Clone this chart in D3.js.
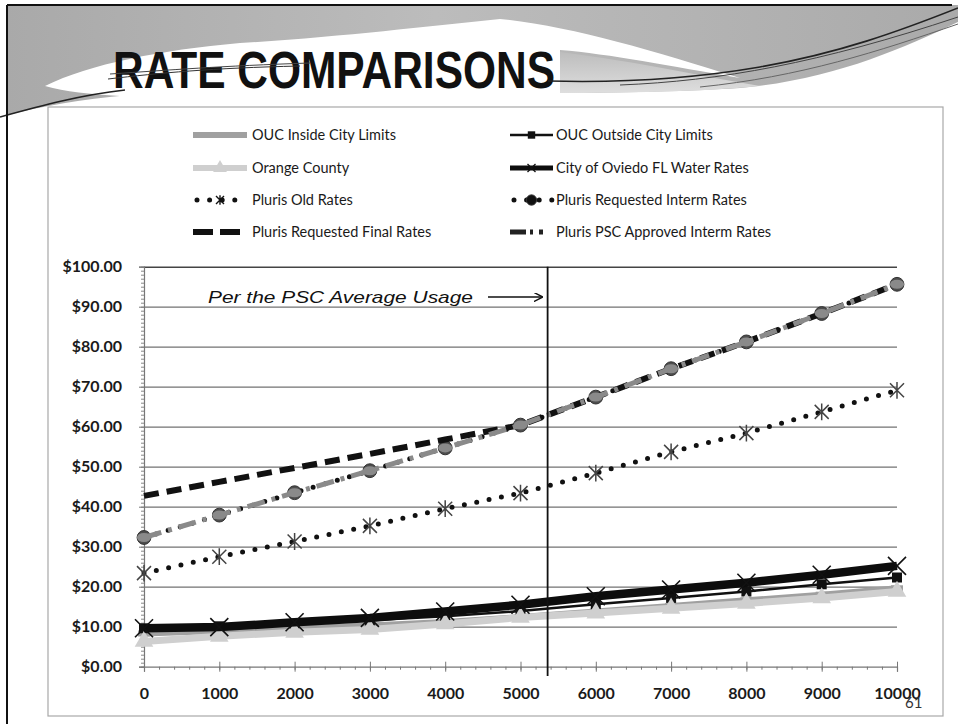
<!DOCTYPE html>
<html><head><meta charset="utf-8">
<script src="https://cdn.jsdelivr.net/npm/d3@7"></script>
<style>body{margin:0;background:#fff;} svg{display:block}</style>
</head><body>
<svg id="c" width="958" height="724"></svg>
<script>
// ---------- data ----------
const usage = [0,1000,2000,3000,4000,5000,6000,7000,8000,9000,10000];
const xTickLabels = ["0","1000","2000","3000","4000","5000","6000","7000","8000","9000","10000"];
const yTickValues = [0,10,20,30,40,50,60,70,80,90,100];
const seriesNames = [
  "OUC Inside City Limits","OUC Outside City Limits",
  "Orange County","City of Oviedo FL Water Rates",
  "Pluris Old Rates","Pluris Requested Interm Rates",
  "Pluris Requested Final Rates","Pluris PSC Approved Interm Rates"
];
const oucInside       = [8.3, 8.9, 9.6, 10.3, 11.2, 12.4, 13.8, 15.2, 16.6, 18.0, 19.6];
const oucOutside      = [9.6, 10.1, 10.8, 11.6, 12.6, 13.9, 15.6, 17.2, 18.8, 20.6, 22.3];
const orangeCounty    = [6.3, 7.6, 8.6, 9.3, 10.7, 12.3, 13.4, 14.6, 15.8, 17.2, 18.8];
const oviedo          = [9.6, 9.9, 11.1, 12.2, 13.8, 15.5, 17.6, 19.3, 21.0, 23.0, 25.2];
const plurisOld       = [23.4, 27.5, 31.3, 35.2, 39.5, 43.4, 48.4, 53.7, 58.4, 63.7, 69.1];
const plurisReqInterim= [32.3, 37.9, 43.5, 49.0, 54.7, 60.4, 67.4, 74.5, 81.2, 88.3, 95.6];
const plurisReqFinal  = [42.7, 46.2, 49.7, 53.2, 56.8, 60.4, 67.4, 74.5, 81.2, 88.3, 95.6];
const pscApproved     = [32.3, 37.9, 43.5, 49.0, 54.7, 60.4, 67.4, 74.5, 81.2, 88.3, 95.6];
const pscAverageUsage = 5360;
const titleText = "RATE COMPARISONS";
const annotationText = "Per the PSC Average Usage";
const pageNumber = "61";

// ---------- setup ----------
const svg = d3.select("#c");
const defs = svg.append("defs");
const g1 = defs.append("linearGradient").attr("id","hg").attr("x1",0).attr("y1",0).attr("x2",1).attr("y2",0);
g1.append("stop").attr("offset",0).attr("stop-color","#a9a9a9");
g1.append("stop").attr("offset",0.45).attr("stop-color","#bcbcbc");
g1.append("stop").attr("offset",1).attr("stop-color","#aaaaaa");
const g2 = defs.append("linearGradient").attr("id","hg2").attr("x1",0).attr("y1",0).attr("x2",0).attr("y2",1);
g2.append("stop").attr("offset",0).attr("stop-color","#bdbdbd");
g2.append("stop").attr("offset",1).attr("stop-color","#dedede");

// ---------- header ----------
const hdr = svg.append("g");
hdr.append("path")
  .attr("d","M7,5 H958 V22 C 900,50 830,80 740,88 C 680,92 600,93 540,93 L 130,95 C 80,99 40,107 7,115 Z")
  .attr("fill","url(#hg)");
hdr.append("path")
  .attr("d","M560,52 C 640,62 700,76 760,86 C 700,92 620,93 560,93 Z")
  .attr("fill","url(#hg2)");
hdr.append("path")
  .attr("d","M45,86 C 90,64 160,50 240,43 C 340,37 420,27 500,19 C 570,26 650,50 740,78 C 670,66 610,54 560,50 L 560,95 L 120,96 C 90,94 65,92 45,86 Z")
  .attr("fill","#fff");
hdr.append("text").text(titleText)
  .attr("x",113).attr("y",88)
  .attr("font-family","'Liberation Sans', Arial, sans-serif")
  .attr("font-weight","bold").attr("font-size",52)
  .attr("textLength",442).attr("lengthAdjust","spacingAndGlyphs")
  .attr("fill","#111");
const swoosh = [
  ["M0,117 C 40,106 80,95 125,90", "#222", 1.6],
  ["M108,79 C 160,73 210,68 300,66", "#333", 1],
  ["M110,74 C 170,70 220,66 310,63", "#444", 1],
  ["M548,81 C 620,83 690,79 760,67 C 840,53 900,31 958,8", "#222", 1.6],
  ["M620,85 C 720,81 820,63 958,17", "#444", 1],
  ["M700,87 C 800,77 880,51 958,24", "#666", 1]
];
hdr.selectAll("path.sw").data(swoosh).join("path").attr("class","sw")
  .attr("d",d=>d[0]).attr("stroke",d=>d[1]).attr("stroke-width",d=>d[2]).attr("fill","none");
// slide border
svg.append("line").attr("x1",7).attr("x2",952).attr("y1",5).attr("y2",5).attr("stroke","#111").attr("stroke-width",2);
svg.append("line").attr("x1",7).attr("x2",7).attr("y1",5).attr("y2",724).attr("stroke","#111").attr("stroke-width",2);

// chart box
svg.append("rect").attr("x",48).attr("y",107).attr("width",895).attr("height",609)
  .attr("fill","#fff").attr("stroke","#a8a8a8").attr("stroke-width",1.2);

// ---------- scales ----------
const x = d3.scaleLinear().domain([0,10000]).range([144,897]);
const y = d3.scaleLinear().domain([0,100]).range([666.7,266.7]);
const FONT = "Lato, 'Open Sans', sans-serif";

// gridlines
svg.append("g").attr("transform","translate(144,0)")
  .call(d3.axisLeft(y).tickValues(yTickValues.slice(1)).tickSize(-(897-144)).tickFormat(""))
  .call(g=>g.select(".domain").remove())
  .call(g=>g.selectAll("line").attr("stroke",d=>d===100?"#444":"#727272").attr("stroke-width",d=>d===100?1.6:1.2));

// y minor ticks
svg.append("g").attr("transform","translate(144,0)")
  .call(d3.axisLeft(y).ticks(100).tickSize(3).tickFormat(""))
  .call(g=>g.select(".domain").remove())
  .call(g=>g.selectAll("line").attr("stroke","#888"));
// y major axis
svg.append("g").attr("transform","translate(144,0)")
  .call(d3.axisLeft(y).tickValues(yTickValues).tickSize(5).tickPadding(17).tickFormat(d=>"$"+d.toFixed(2)))
  .call(g=>g.select(".domain").attr("stroke","#777").attr("stroke-width",1.2))
  .call(g=>g.selectAll("line").attr("stroke","#777"))
  .call(g=>g.selectAll("text").attr("font-family",FONT).attr("font-weight","bold").attr("font-size",16).attr("fill","#1a1a1a"));

// x minor ticks
svg.append("g").attr("transform","translate(0,666.7)")
  .call(d3.axisBottom(x).ticks(50).tickSize(3).tickFormat(""))
  .call(g=>g.select(".domain").remove())
  .call(g=>g.selectAll("line").attr("stroke","#777"));
// x major axis
svg.append("g").attr("transform","translate(0,666.7)")
  .call(d3.axisBottom(x).tickValues(usage).tickSize(5).tickPadding(16).tickFormat((d,i)=>xTickLabels[i]))
  .call(g=>g.select(".domain").attr("stroke","#777").attr("stroke-width",1.2))
  .call(g=>g.selectAll("line").attr("stroke","#777").attr("y1",-5))
  .call(g=>g.selectAll("text").attr("font-family",FONT).attr("font-weight","bold").attr("font-size",16).attr("fill","#1a1a1a"));

// ---------- series ----------
const line = d3.line().x((d,i)=>x(usage[i])).y(d=>y(d));
const xPath = s=>`M${-s},${-s}L${s},${s}M${-s},${s}L${s},${-s}`;
const starPath = s=>`M${-s},${-s}L${s},${s}M${-s},${s}L${s},${-s}M0,${-s*1.2}L0,${s*1.2}`;

const series = [
  {name:seriesNames[0], v:oucInside, color:"#a0a0a0", w:6, dash:null, cap:"butt",
   marker:{type:"rect", w:12, h:6, fill:"#a0a0a0", stroke:"none"}},
  {name:seriesNames[1], v:oucOutside, color:"#111", w:2.5, dash:null, cap:"butt",
   marker:{type:"sym", sym:d3.symbolSquare, size:100, fill:"#111", stroke:"none"}},
  {name:seriesNames[2], v:orangeCounty, color:"#cfcfcf", w:7, dash:null, cap:"butt",
   marker:{type:"sym", sym:d3.symbolTriangle, size:150, fill:"#cfcfcf", stroke:"none"}},
  {name:seriesNames[3], v:oviedo, color:"#0d0d0d", w:8.5, dash:null, cap:"butt",
   marker:{type:"path", d:xPath(9), stroke:"#111", sw:1.6}},
  {name:seriesNames[4], v:plurisOld, color:"#111", w:5, dash:"0,12.6", cap:"round",
   marker:{type:"path", d:starPath(7), stroke:"#444", sw:1.5}},
  {name:seriesNames[5], v:plurisReqInterim, color:"#111", w:5, dash:"0,12.6", cap:"round",
   marker:{type:"sym", sym:d3.symbolCircle, size:150, fill:"#4d4d4d", stroke:"#333"}},
  {name:seriesNames[6], v:plurisReqFinal, color:"#111", w:6, dash:"15,8", cap:"butt",
   marker:null},
  {name:seriesNames[7], v:pscApproved, color:"#8a8a8a", w:5, dash:"18,7,4,7", cap:"butt",
   marker:{type:"ellipse", rx:7, ry:4.5, fill:"#8a8a8a", stroke:"none"}}
];

function drawMarker(sel, m){
  if(!m) return;
  if(m.type==="rect") sel.append("rect").attr("x",-m.w/2).attr("y",-m.h/2).attr("width",m.w).attr("height",m.h).attr("fill",m.fill);
  else if(m.type==="sym") sel.append("path").attr("d",d3.symbol().type(m.sym).size(m.size)()).attr("fill",m.fill).attr("stroke",m.stroke);
  else if(m.type==="path") sel.append("path").attr("d",m.d).attr("fill","none").attr("stroke",m.stroke).attr("stroke-width",m.sw);
  else if(m.type==="ellipse") sel.append("ellipse").attr("rx",m.rx).attr("ry",m.ry).attr("fill",m.fill);
}

const plot = svg.append("g");
series.forEach(s=>{
  plot.append("path").datum(s.v).attr("d",line)
    .attr("fill","none").attr("stroke",s.color).attr("stroke-width",s.w)
    .attr("stroke-dasharray",s.dash).attr("stroke-linecap",s.cap).attr("stroke-linejoin","round");
  if(s.marker){
    plot.append("g").selectAll("g").data(s.v).join("g")
      .attr("transform",(d,i)=>`translate(${x(usage[i])},${y(d)})`)
      .each(function(){ drawMarker(d3.select(this), s.marker); });
  }
});

// vertical reference line
svg.append("line").attr("x1",x(pscAverageUsage)).attr("x2",x(pscAverageUsage))
  .attr("y1",y(100)).attr("y2",676).attr("stroke","#111").attr("stroke-width",1.8);

// annotation
svg.append("text").text(annotationText).attr("x",208).attr("y",303)
  .attr("font-family","'Liberation Sans', Arial, sans-serif").attr("font-style","italic")
  .attr("font-size",17).attr("textLength",265).attr("lengthAdjust","spacingAndGlyphs").attr("fill","#111");
defs.append("marker").attr("id","ah").attr("viewBox","0 0 10 10").attr("refX",9).attr("refY",5)
  .attr("markerWidth",9).attr("markerHeight",9).attr("markerUnits","userSpaceOnUse").attr("orient","auto")
  .append("path").attr("d","M0,0 L10,5 L0,10").attr("fill","none").attr("stroke","#111").attr("stroke-width",1.6);
svg.append("line").attr("x1",488).attr("x2",542).attr("y1",297).attr("y2",297)
  .attr("stroke","#111").attr("stroke-width",1.6).attr("marker-end","url(#ah)");

// ---------- legend ----------
const legendRows = [135,168,200,232];
const legendCols = [{x1:193,x2:247,tx:252},{x1:510,x2:553,tx:556}];
const leg = svg.append("g");
series.forEach((s,i)=>{
  const c = legendCols[i%2], yy = legendRows[Math.floor(i/2)];
  const gi = leg.append("g");
  let color = s.color, dash = s.dash, x1 = c.x1, x2 = c.x2, w = Math.min(s.w,6);
  if(i===6){ dash="20,7"; x2 = c.x1+47; }
  if(i===7){ color="#222"; dash="16,4,3,6,4,20"; }
  if(i===4||i===5){ x1 = c.x1+4; }
  gi.append("line").attr("x1",x1).attr("x2",x2).attr("y1",yy).attr("y2",yy)
    .attr("stroke",color).attr("stroke-width",i===3?5:w).attr("stroke-dasharray",dash)
    .attr("stroke-linecap",s.cap);
  if(s.marker && i!==7 && i!==0){
    let m = Object.assign({}, s.marker);
    if(m.type==="sym") m.size = m.size*0.55;
    if(i===3) m = {type:"path", d:xPath(4), stroke:"#111", sw:1.3};
    if(i===4) m = {type:"path", d:starPath(4), stroke:"#111", sw:1.4};
    if(i===5) m.fill="#111";
    const mg = gi.append("g").attr("transform",`translate(${(c.x1+c.x2)/2},${yy})`);
    drawMarker(mg, m);
  }
  gi.append("text").text(s.name).attr("x",c.tx).attr("y",yy).attr("dy","0.35em")
    .attr("font-family",FONT).attr("font-size",14.5).attr("fill","#1a1a1a");
});

// page number
svg.append("text").text(pageNumber).attr("x",905).attr("y",708)
  .attr("font-family",FONT).attr("font-size",15).attr("fill","#333");
</script>
</body></html>
